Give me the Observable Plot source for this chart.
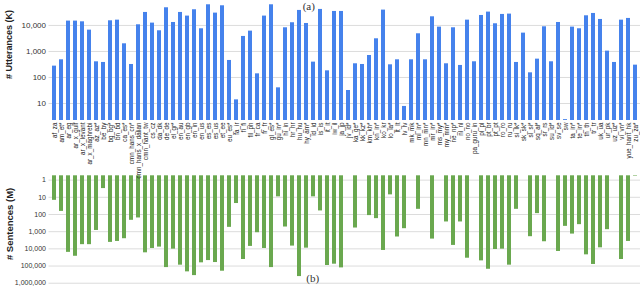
<!DOCTYPE html>
<html>
<head>
<meta charset="utf-8">
<script src="https://cdn.jsdelivr.net/npm/d3@7"></script>
<script src="https://cdn.jsdelivr.net/npm/@observablehq/plot@0.6"></script>
<style>
  body { margin: 0; background: #fff; }
  #wrap { position: relative; width: 640px; height: 286px; overflow: hidden; background: #fff; }
  #top, #bottom { position: absolute; left: 0; }
  #top { top: 0; z-index: 2; }
  #bottom { top: 174px; z-index: 1; }
  svg { overflow: visible; }
</style>
</head>
<body>
<div id="wrap"><div id="top"></div><div id="bottom"></div></div>
<script>
const languages = ["af_za","am_et*","ar_eg","ar_x_gulf","ar_x_levant","ar_x_maghrebi","az_az*","be_by","bg_bg*","bn_bd",
  "ca_es*","cmn_hans_cn*","cmn_hans_x_dalian","cmn_hant_tw","cs_cz","da_dk","de_de","el_gr*","en_au","en_gb",
  "en_in","en_us","es_es","es_us","et_ee","eu_es*","fa_ir","fi_fi","fil_ph","fr_ca",
  "fr_fr","gl_es*","gu_in*","hi_in","hr_hr","hu_hu","hy_am*","id_id","is_is","it_it",
  "iw_il","ja_jp","jv_id*","ka_ge*","kk_kz*","km_kh*","kn_in*","ko_kr","lo_la*","lt_lt",
  "lv_lv","mk_mk","ml_in*","mn_mn*","mr_in*","ms_my*","my_mm*","ne_np*","nl_nl","no_no",
  "pa_guru_in","pl_pl","pt_br","pt_pt","ro_ro","ru_ru","si_lk*","sk_sk*","sl_si*","sq_al*",
  "sr_rs","su_id*","sv_se","sw","ta_in*","te_in*","th_th","tr_tr","uk_ua","ur_pk",
  "uz_uz*","vi_vn*","yue_hant_hk","zu_za*"];

// (a) # Utterances (K)
const utterancesK = [273, 478, 14700, 14700, 13800, 6600, 400, 378, 15100, 16000,
  1970, 316, 10600, 31600, 12300, 6240, 47800, 13000, 31600, 22900,
  40100, 7450, 62300, 29800, 57000, 451, 13.8, 3780, 6050, 138,
  22900, 62300, 40, 8130, 12700, 37800, 11900, 389, 41300, 180,
  34500, 34500, 31.6, 336, 316, 700, 3070, 38900, 307, 478,
  7.7, 478, 4780, 478, 21500, 8630, 336, 8130, 290, 16000,
  401, 24200, 32600, 11600, 26500, 27300, 378, 5070, 151, 507,
  8880, 401, 13000, 2.4, 8630, 7450, 23500, 28900, 17000, 1030,
  378, 16000, 18600, 298];

// (b) # Sentences (M)
const sentencesM = [15, 66, 16000, 27000, 5700, 5700, 850, 3.1, 4200, 3700,
  2570, 218, 159, 17000, 9500, 7900, 123000, 10400, 89000, 218000,
  360000, 65000, 48000, 62500, 200000, 560, 23, 41600, 7200, 1150,
  9500, 123000, 9.4, 535, 6900, 410000, 9100, 9.4, 62, 93000,
  78000, 128000, null, 613, null, 116, 174, 12400, 7.2, 2040,
  670, null, 50, null, 2700, null, 272, 6300, 272, 35000,
  null, 50000, 154000, 10900, 10400, 89000, 50, null, 1960, 89,
  3860, null, 14200, 490, 1380, 390, 22300, 81000, 8700, 765,
  null, 41600, 3700, 0.6];

const uttTicks = [10, 100, 1000, 10000];
const sentTicks = [1, 10, 100, 1000, 10000, 100000, 1000000];
const uttDomain = [2.22, 91000];
const sentDomain = [0.56, 1110000];
const uttTitle = "# Utterances (K)";
const sentTitle = "# Sentences (M)";
const panelA = "(a)";
const panelB = "(b)";

const rows = languages.map((lang, i) => ({lang, utt: utterancesK[i], sent: sentencesM[i]}));
const font = "Liberation Sans, Arial, sans-serif";
const xOpts = {domain: languages, paddingInner: 0.38, paddingOuter: 0.38, align: 0.5};

const topPlot = Plot.plot({
  width: 640, height: 174,
  marginLeft: 48.5, marginRight: 0, marginTop: 0, marginBottom: 54,
  style: {background: "transparent", overflow: "visible", fontFamily: font},
  x: {...xOpts, type: "band"},
  y: {type: "log", domain: uttDomain},
  marks: [
    Plot.gridY(uttTicks, {stroke: "#dcdcdc", strokeOpacity: 1}),
    Plot.barY(rows, {x: "lang", y1: uttDomain[0], y2: "utt", fill: "#4582ec"}),
    Plot.axisY(uttTicks, {tickSize: 0, tickPadding: 3, tickFormat: d3.format(","), fontSize: 8, fill: "#333", label: null}),
    Plot.axisX({tickSize: 0, tickPadding: 2, tickRotate: -90, fontSize: 6.3, fill: "#222", label: null}),
    Plot.text([uttTitle], {text: d => d, frameAnchor: "left", textAnchor: "middle", lineAnchor: "middle", rotate: -90, dx: -39.5, dy: -16, fontSize: 9, fontWeight: "bold", fill: "#222"}),
    Plot.text([panelA], {text: d => d, frameAnchor: "top", textAnchor: "middle", dx: -36, dy: 6, lineAnchor: "middle", fontFamily: "Liberation Serif, serif", fontSize: 11, fill: "#333"})
  ]
});
document.getElementById("top").appendChild(topPlot);

const bottomPlot = Plot.plot({
  width: 640, height: 112,
  marginLeft: 48.5, marginRight: 0, marginTop: 1.3, marginBottom: 2.5,
  style: {background: "transparent", overflow: "visible", fontFamily: font},
  x: {...xOpts, type: "band", axis: null},
  y: {type: "log", domain: sentDomain, reverse: true},
  marks: [
    Plot.gridY(sentTicks, {stroke: "#dcdcdc", strokeOpacity: 1}),
    Plot.barY(rows.filter(d => d.sent != null), {x: "lang", y1: sentDomain[0], y2: "sent", fill: "#6aa84f"}),
    Plot.axisY(sentTicks, {tickSize: 0, tickPadding: 3, tickFormat: d3.format(","), fontSize: 7, fill: "#333", label: null}),
    Plot.text([sentTitle], {text: d => d, frameAnchor: "left", textAnchor: "middle", lineAnchor: "middle", rotate: -90, dx: -39.5, dy: -6, fontSize: 9.5, fontWeight: "bold", fill: "#222"}),
    Plot.text([panelB], {text: d => d, frameAnchor: "bottom", textAnchor: "middle", dx: -32, dy: -5.5, lineAnchor: "middle", fontFamily: "Liberation Serif, serif", fontSize: 11, fill: "#333"})
  ]
});
document.getElementById("bottom").appendChild(bottomPlot);
</script>
</body>
</html>
